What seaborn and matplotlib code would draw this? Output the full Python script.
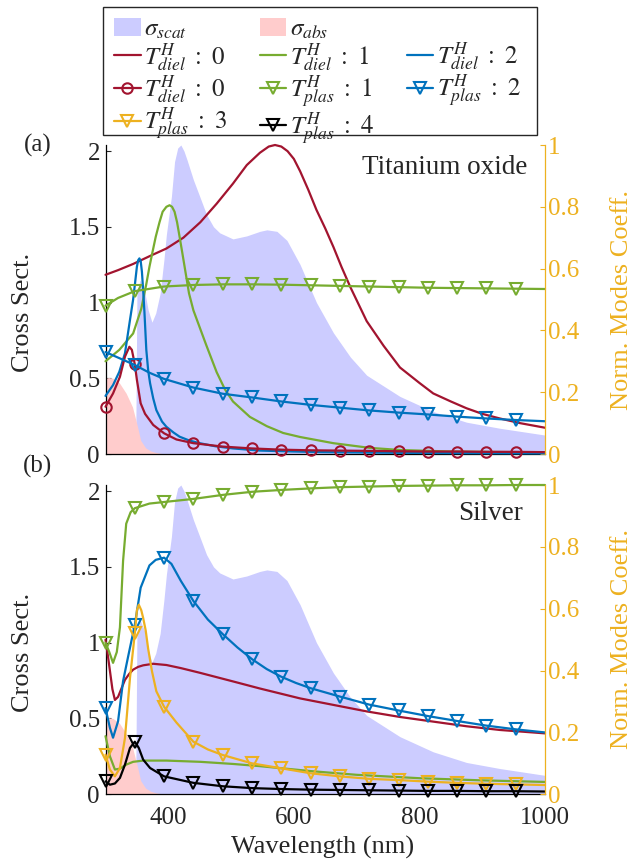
import numpy as np
import matplotlib
matplotlib.use('Agg')
import matplotlib.pyplot as plt
import seaborn as sns
from matplotlib.lines import Line2D
from matplotlib.patches import Patch, Rectangle

sns.set_style('white')
plt.rcParams['font.family'] = ['Liberation Serif', 'DejaVu Serif']
plt.rcParams['mathtext.fontset'] = 'stix'
plt.rcParams['xtick.direction'] = 'in'
plt.rcParams['ytick.direction'] = 'in'

RED = '#A2142F'
GREEN = '#77AC30'
BLUE = '#0072BD'
YELLOW = '#EDB120'
BLACK = '#000000'
SCAT_C = '#CCCCFF'
ABS_C = '#FFCCCC'

# marker positions (nm)
mark_wl = [300, 346.7, 393.3, 440, 486.7, 533.3, 580, 626.7, 673.3, 720,
           766.7, 813.3, 860, 906.7, 953.3]

# cross sections (left axis), same in both panels
scat_wl = [300, 348, 350, 355, 362, 368, 374, 380, 387, 393, 397, 405, 410, 415,
           420, 425, 430, 440, 451, 461, 472, 482, 503, 525, 546, 557, 573, 589,
           610, 636, 663, 690, 716, 769, 822, 875, 928, 1000]
scat = [0, 0, 1.05, 1.15, 1.08, 0.95, 0.87, 0.93, 1.06, 1.28, 1.45, 1.70, 1.93, 2.02,
        2.04, 2.0, 1.94, 1.81, 1.69, 1.58, 1.50, 1.46, 1.42, 1.44, 1.47, 1.48, 1.47, 1.41,
        1.25, 1.0, 0.80, 0.64, 0.52, 0.38, 0.28, 0.21, 0.17, 0.125]
abs_wl = [300, 305, 312, 322, 333, 343, 351, 356, 364, 372, 380, 390, 400]
abs_cs = [0.50, 0.505, 0.50, 0.47, 0.40, 0.31, 0.18, 0.09, 0.04, 0.02, 0.01, 0.003, 0]

# ---- Titanium oxide (right axis) ----
ti_d0_wl = [300, 320, 344, 370, 397, 424, 451, 477, 503, 525, 546, 560, 570, 580, 590,
            600, 610, 623, 636, 650, 663, 676, 690, 703, 716, 743, 769, 800, 822, 850,
            875, 900, 928, 960, 1000]
ti_d0 = [0.58, 0.595, 0.615, 0.64, 0.665, 0.70, 0.75, 0.81, 0.875, 0.935, 0.975, 0.995,
         1.0, 0.995, 0.98, 0.955, 0.915, 0.855, 0.79, 0.73, 0.67, 0.605, 0.54, 0.485,
         0.43, 0.35, 0.28, 0.23, 0.196, 0.17, 0.148, 0.13, 0.115, 0.10, 0.085]

ti_d0c_wl = [300, 312, 323, 331, 338, 342, 346.7, 350, 356, 363, 376, 393.3, 413, 440,
             486.7, 533.3, 580, 626.7, 673.3, 720, 766.7, 813.3, 860, 906.7, 953.3, 1000]
ti_d0c = [0.153, 0.196, 0.25, 0.315, 0.347, 0.337, 0.29, 0.24, 0.164, 0.13, 0.094, 0.067,
          0.047, 0.035, 0.024, 0.018, 0.014, 0.012, 0.011, 0.01, 0.009, 0.008, 0.008,
          0.007, 0.007, 0.006]

ti_d1_wl = [300, 322, 344, 357, 365, 370, 375, 380, 386, 391, 397, 402, 406, 410, 414,
            418, 422, 426, 433, 440, 450, 460, 477, 490, 503, 530, 557, 583, 610, 663,
            720, 769, 850, 1000]
ti_d1 = [0.30, 0.337, 0.39, 0.47, 0.55, 0.606, 0.655, 0.703, 0.75, 0.784, 0.80, 0.805,
         0.80, 0.784, 0.75, 0.703, 0.655, 0.606, 0.52, 0.465, 0.41, 0.355, 0.265, 0.21,
         0.17, 0.12, 0.09, 0.068, 0.055, 0.035, 0.02, 0.013, 0.008, 0.005]

ti_p1_wl = [300, 320, 346.7, 393.3, 440, 486.7, 533.3, 580, 626.7, 673.3, 720, 766.7,
            813.3, 860, 906.7, 953.3, 1000]
ti_p1 = [0.48, 0.505, 0.527, 0.542, 0.547, 0.549, 0.549, 0.548, 0.546, 0.544, 0.542,
         0.54, 0.538, 0.537, 0.536, 0.535, 0.534]

ti_d2_wl = [300, 312, 322, 331, 339, 344, 347, 350, 352, 354, 356, 358, 360, 362, 365,
            368, 371, 376, 381, 390, 397, 408, 418, 433, 450, 475, 503, 546, 600, 650,
            750, 850, 1000]
ti_d2 = [0.188, 0.223, 0.266, 0.326, 0.434, 0.50, 0.552, 0.606, 0.627, 0.633, 0.625,
         0.59, 0.53, 0.46, 0.337, 0.27, 0.229, 0.18, 0.142, 0.105, 0.088, 0.07, 0.056,
         0.044, 0.035, 0.025, 0.018, 0.011, 0.008, 0.006, 0.004, 0.003, 0.002]

ti_p2_wl = [300, 320, 346.7, 370, 393.3, 440, 486.7, 533.3, 580, 626.7, 673.3, 720,
            766.7, 813.3, 860, 906.7, 953.3, 1000]
ti_p2 = [0.33, 0.312, 0.288, 0.263, 0.243, 0.215, 0.195, 0.183, 0.17, 0.159, 0.15,
         0.141, 0.134, 0.128, 0.121, 0.115, 0.11, 0.106]

# ---- Silver (right axis) ----
ag_d0_wl = [300, 303, 307, 311, 315, 320, 325, 331, 338, 344, 352, 360, 376, 397, 420,
            450, 503, 546, 610, 663, 716, 769, 822, 875, 928, 1000]
ag_d0 = [0.5, 0.46, 0.40, 0.34, 0.305, 0.315, 0.34, 0.37, 0.39, 0.403, 0.412, 0.417,
         0.422, 0.418, 0.408, 0.393, 0.365, 0.342, 0.31, 0.289, 0.268, 0.25, 0.235,
         0.22, 0.208, 0.197]

ag_d1_wl = [300, 307, 315, 323, 333, 344, 360, 397, 451, 504, 546, 627, 700, 800, 900, 1000]
ag_d1 = [0.188, 0.123, 0.08, 0.083, 0.096, 0.105, 0.109, 0.109, 0.105, 0.098, 0.091,
         0.075, 0.063, 0.052, 0.045, 0.04]

ag_p1_wl = [300, 306, 312, 318, 323, 328, 333, 340, 346.7, 370, 393.3, 440, 486.7,
            533.3, 580, 626.7, 673.3, 720, 766.7, 813.3, 860, 906.7, 953.3, 1000]
ag_p1 = [0.49, 0.46, 0.425, 0.46, 0.54, 0.755, 0.875, 0.912, 0.925, 0.94, 0.945, 0.955,
         0.968, 0.978, 0.984, 0.989, 0.993, 0.995, 0.997, 0.998, 0.999, 0.999, 1.0, 1.0]

ag_p2_wl = [300, 307, 312, 320, 328, 336, 346.7, 356, 370, 380, 393.3, 405, 420, 440,
            463, 486.7, 510, 533.3, 556.7, 580, 603.3, 626.7, 673.3, 720, 766.7, 813.3,
            860, 906.7, 953.3, 1000]
ag_p2 = [0.279, 0.215, 0.183, 0.236, 0.366, 0.445, 0.548, 0.668, 0.74, 0.758, 0.765,
         0.745, 0.69, 0.625, 0.565, 0.518, 0.475, 0.437, 0.405, 0.38, 0.36, 0.343, 0.316,
         0.29, 0.271, 0.253, 0.237, 0.222, 0.21, 0.2]

ag_p3_wl = [300, 307, 315, 323, 331, 339, 346.7, 350, 353, 357, 360, 364, 368, 374, 381,
            393.3, 413, 440, 463, 486.7, 533.3, 580, 626.7, 673.3, 720, 766.7, 813.3,
            860, 906.7, 953.3, 1000]
ag_p3 = [0.128, 0.08, 0.058, 0.085, 0.182, 0.376, 0.52, 0.595, 0.613, 0.595, 0.57, 0.53,
         0.47, 0.398, 0.333, 0.283, 0.232, 0.17, 0.145, 0.127, 0.1, 0.084, 0.068, 0.058,
         0.05, 0.046, 0.041, 0.037, 0.034, 0.032, 0.03]

ag_p4_wl = [300, 307, 315, 323, 331, 339, 346.7, 353, 360, 371, 393.3, 440, 486.7, 533.3,
            580, 626.7, 673.3, 720, 766.7, 813.3, 860, 906.7, 953.3, 1000]
ag_p4 = [0.042, 0.031, 0.035, 0.053, 0.096, 0.15, 0.17, 0.15, 0.112, 0.085, 0.058, 0.037,
         0.026, 0.02, 0.017, 0.015, 0.014, 0.013, 0.012, 0.011, 0.011, 0.01, 0.01, 0.009]

FS = 18
LW = 1.6

fig = plt.figure(figsize=(6.38, 8.63), dpi=100)


def draw_panel(rect, series, material, mat_xy, show_xlabels):
    ax = fig.add_axes(rect)
    ax.fill_between(scat_wl, scat, color=SCAT_C, lw=0)
    ax.fill_between(abs_wl, abs_cs, color=ABS_C, lw=0)
    ax.set_xlim(300, 1000)
    ax.set_ylim(0, 2.04)
    ax.set_yticks([0, 0.5, 1, 1.5, 2])
    ax.set_yticklabels(['0', '0.5', '1', '1.5', '2'])
    ax.set_xticks([400, 600, 800, 1000])
    if show_xlabels:
        ax.set_xticklabels(['400', '600', '800', '1000'])
    else:
        ax.set_xticklabels([])
    ax.tick_params(axis='both', labelsize=FS, length=3.5, width=0.8, pad=4)
    ax.tick_params(axis='x', pad=9)

    ax2 = ax.twinx()
    for wl, val, color, marker, ms in series:
        kw = {}
        if marker:
            idx = [i for i, w in enumerate(wl) if np.isclose(mark_wl, w, atol=0.05).any()]
            kw = dict(marker=marker, markevery=idx, markersize=ms,
                      markerfacecolor='none', markeredgecolor=color,
                      markeredgewidth=1.5)
        sns.lineplot(x=wl, y=val, ax=ax2, color=color, linewidth=LW,
                     estimator=None, sort=False, clip_on=False, **kw)
    ax2.set_ylim(0, 1)
    ax2.set_xlim(300, 1000)
    ax2.set_yticks([0, 0.2, 0.4, 0.6, 0.8, 1])
    ax2.set_yticklabels(['0', '0.2', '0.4', '0.6', '0.8', '1'])
    ax2.tick_params(axis='y', colors=YELLOW, labelsize=FS, length=3.5, width=0.8, pad=2)
    ax2.set_ylabel('')
    ax2.set_xlabel('')

    for a in (ax, ax2):
        a.spines['top'].set_visible(False)
        for s in a.spines.values():
            s.set_linewidth(0.9)
    ax.spines['right'].set_visible(False)
    ax2.spines['left'].set_visible(False)
    ax2.spines['bottom'].set_visible(False)
    ax2.spines['right'].set_color(YELLOW)
    ax.spines['left'].set_color('black')
    ax.spines['bottom'].set_color('black')

    fig.text(mat_xy[0], mat_xy[1], material, ha='right', va='center', fontsize=FS + 1.5)
    return ax, ax2


W, H = 638, 863
left = 105.5 / W
width = (545 - 105.5) / W

top_series = [
    (ti_d0_wl, ti_d0, RED, None, 0),
    (ti_d1_wl, ti_d1, GREEN, None, 0),
    (ti_d2_wl, ti_d2, BLUE, None, 0),
    (ti_d0c_wl, ti_d0c, RED, 'o', 7.5),
    (ti_p1_wl, ti_p1, GREEN, 'v', 8.5),
    (ti_p2_wl, ti_p2, BLUE, 'v', 8.5),
]
bot_series = [
    (ag_d0_wl, ag_d0, RED, None, 0),
    (ag_d1_wl, ag_d1, GREEN, None, 0),
    (ag_p1_wl, ag_p1, GREEN, 'v', 8.5),
    (ag_p2_wl, ag_p2, BLUE, 'v', 8.5),
    (ag_p3_wl, ag_p3, YELLOW, 'v', 8.5),
    (ag_p4_wl, ag_p4, BLACK, 'v', 8.5),
]

draw_panel([left, 1 - 454 / H, width, (454 - 145) / H], top_series,
           'Titanium oxide', (527 / W, 1 - 167 / H), False)
draw_panel([left, 1 - 794.3 / H, width, (794.3 - 485) / H], bot_series,
           'Silver', (523 / W, 1 - 513 / H), True)

# labels
fig.text(23 / W, 1 - 312 / H, 'Cross Sect.', rotation=90, ha='center', va='center', fontsize=FS + 1)
fig.text(23 / W, 1 - 652 / H, 'Cross Sect.', rotation=90, ha='center', va='center', fontsize=FS + 1)
fig.text(622 / W, 1 - 300 / H, 'Norm. Modes Coeff.', rotation=90, ha='center', va='center',
         fontsize=FS + 1, color=YELLOW)
fig.text(622 / W, 1 - 639 / H, 'Norm. Modes Coeff.', rotation=90, ha='center', va='center',
         fontsize=FS + 1, color=YELLOW)
fig.text(323 / W, 1 - 847 / H, 'Wavelength (nm)', ha='center', va='center', fontsize=FS + 1)
fig.text(38 / W, 1 - 145 / H, '(a)', ha='center', va='center', fontsize=FS)
fig.text(38 / W, 1 - 466 / H, '(b)', ha='center', va='center', fontsize=FS)

# legend box drawn separately so it keeps the reference size
fig.add_artist(Rectangle((103 / W, 1 - 135 / H), 434 / W, 128 / H, transform=fig.transFigure,
                         facecolor='white', edgecolor='0.15', linewidth=1.0, zorder=4))


def line_h(color, marker=None, ms=8.5):
    return Line2D([0], [0], color=color, lw=LW, marker=marker, markersize=ms,
                  markerfacecolor='none', markeredgecolor=color, markeredgewidth=1.5)

blank = Line2D([0], [0], color='none')
# column-major fill, blanks keep the MATLAB layout
handles = [
    Patch(facecolor=SCAT_C, edgecolor='none'),
    line_h(RED),
    line_h(RED, 'o', 7.5),
    line_h(YELLOW, 'v'),
    Patch(facecolor=ABS_C, edgecolor='none'),
    line_h(GREEN),
    line_h(GREEN, 'v'),
    line_h(BLACK, 'v'),
    blank,
    line_h(BLUE),
    line_h(BLUE, 'v'),
    blank,
]
labels = [
    r'$\sigma_{scat}$',
    r'$T^H_{diel}\ :\ 0$',
    r'$T^H_{diel}\ :\ 0$',
    r'$T^H_{plas}\ :\ 3$',
    r'$\sigma_{abs}$',
    r'$T^H_{diel}\ :\ 1$',
    r'$T^H_{plas}\ :\ 1$',
    r'$T^H_{plas}\ :\ 4$',
    '',
    r'$T^H_{diel}\ :\ 2$',
    r'$T^H_{plas}\ :\ 2$',
    '',
]
leg = fig.legend(handles, labels, ncol=3, loc='upper left',
                 bbox_to_anchor=(103 / W, 1 - 7 / H), fontsize=FS,
                 handlelength=1.05, handletextpad=0.15, columnspacing=1.3,
                 labelspacing=0.0, borderpad=0.45, borderaxespad=0,
                 frameon=False)
leg.set_zorder(5)

fig.savefig('out.png', dpi=100)
